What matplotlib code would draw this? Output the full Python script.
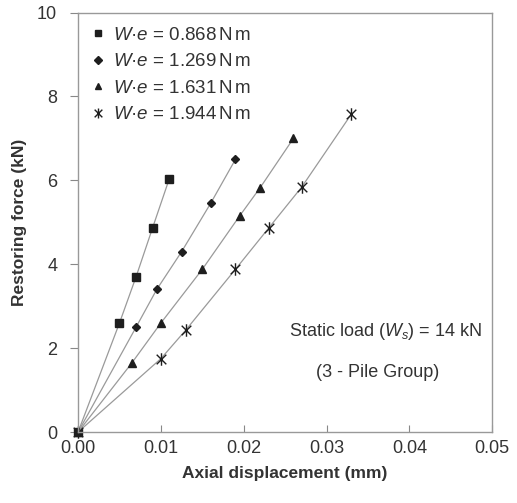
import matplotlib
matplotlib.use("Agg")
import matplotlib.pyplot as plt
from matplotlib.path import Path

plt.rcParams['font.family'] = ['Liberation Sans', 'DejaVu Sans']
plt.rcParams['mathtext.fontset'] = 'custom'
plt.rcParams['mathtext.rm'] = 'Liberation Sans'
plt.rcParams['mathtext.it'] = 'Liberation Sans:italic'

x_sq = [0, 0.005, 0.007, 0.009, 0.011]
y_sq = [0, 2.6, 3.7, 4.87, 6.03]
x_di = [0, 0.007, 0.0095, 0.0125, 0.016, 0.019]
y_di = [0, 2.5, 3.4, 4.3, 5.45, 6.5]
x_tr = [0, 0.0065, 0.010, 0.015, 0.0195, 0.022, 0.026]
y_tr = [0, 1.65, 2.6, 3.88, 5.15, 5.83, 7.0]
x_st = [0, 0.010, 0.013, 0.019, 0.023, 0.027, 0.033]
y_st = [0, 1.75, 2.43, 3.88, 4.86, 5.84, 7.58]
labels = [r'$W$·$e$ = 0.868$\,$N$\,$m', r'$W$·$e$ = 1.269$\,$N$\,$m',
          r'$W$·$e$ = 1.631$\,$N$\,$m', r'$W$·$e$ = 1.944$\,$N$\,$m']
xticks = [0.00, 0.01, 0.02, 0.03, 0.04, 0.05]
yticks = [0, 2, 4, 6, 8, 10]

star = Path([(-1, -1), (1, 1), (-1, 1), (1, -1), (0, -1.3), (0, 1.3)],
            [Path.MOVETO, Path.LINETO, Path.MOVETO, Path.LINETO, Path.MOVETO, Path.LINETO])

fig = plt.figure(figsize=(5.17, 5.03), dpi=100)
ax = fig.add_axes([0.151, 0.141, 0.801, 0.834])

lc = '#9a9a9a'
mc = '#1e1e1e'
kw = dict(color=lc, lw=0.9, clip_on=False)
ax.plot(x_sq, y_sq, marker='s', ms=6, mfc=mc, mec=mc, label=labels[0], **kw)
ax.plot(x_di, y_di, marker='D', ms=4.5, mfc=mc, mec=mc, label=labels[1], **kw)
ax.plot(x_tr, y_tr, marker='^', ms=6, mfc=mc, mec=mc, label=labels[2], **kw)
ax.plot(x_st, y_st, marker=star, ms=9, mfc='none', mec=mc, mew=1.0, label=labels[3], **kw)

ax.set_xlim(0, 0.05)
ax.set_ylim(0, 10)
ax.set_xticks(xticks)
ax.set_xticklabels([f'{v:.2f}' for v in xticks])
ax.set_yticks(yticks)
ax.set_yticklabels([str(v) for v in yticks])
ax.tick_params(axis='x', direction='in', length=5, color='#888888', labelsize=13, labelcolor='#333333', pad=6)
ax.tick_params(axis='y', direction='out', length=6, color='#888888', labelsize=13, labelcolor='#333333', pad=9)
for s in ax.spines.values():
    s.set_color('#999999')
    s.set_linewidth(1.0)

ax.set_xlabel('Axial displacement (mm)', fontsize=12.5, fontweight='bold', color='#333333', labelpad=6)
ax.set_ylabel('Restoring force (kN)', fontsize=12.5, fontweight='bold', color='#333333', labelpad=7)

leg = ax.legend(loc='upper left', frameon=False, fontsize=13.5, handlelength=0.6,
                handletextpad=0.5, labelspacing=0.5, borderaxespad=0.35, markerscale=0.8)
for t in leg.get_texts():
    t.set_color('#333333')
for h in leg.legend_handles:
    h.set_linestyle('none')

ax.text(0.0371, 2.39, r'Static load ($W_s$) = 14 kN', fontsize=13, color='#333333', ha='center', va='center')
ax.text(0.0362, 1.43, '(3 - Pile Group)', fontsize=13, color='#333333', ha='center', va='center')

fig.savefig('out.png', dpi=100)
